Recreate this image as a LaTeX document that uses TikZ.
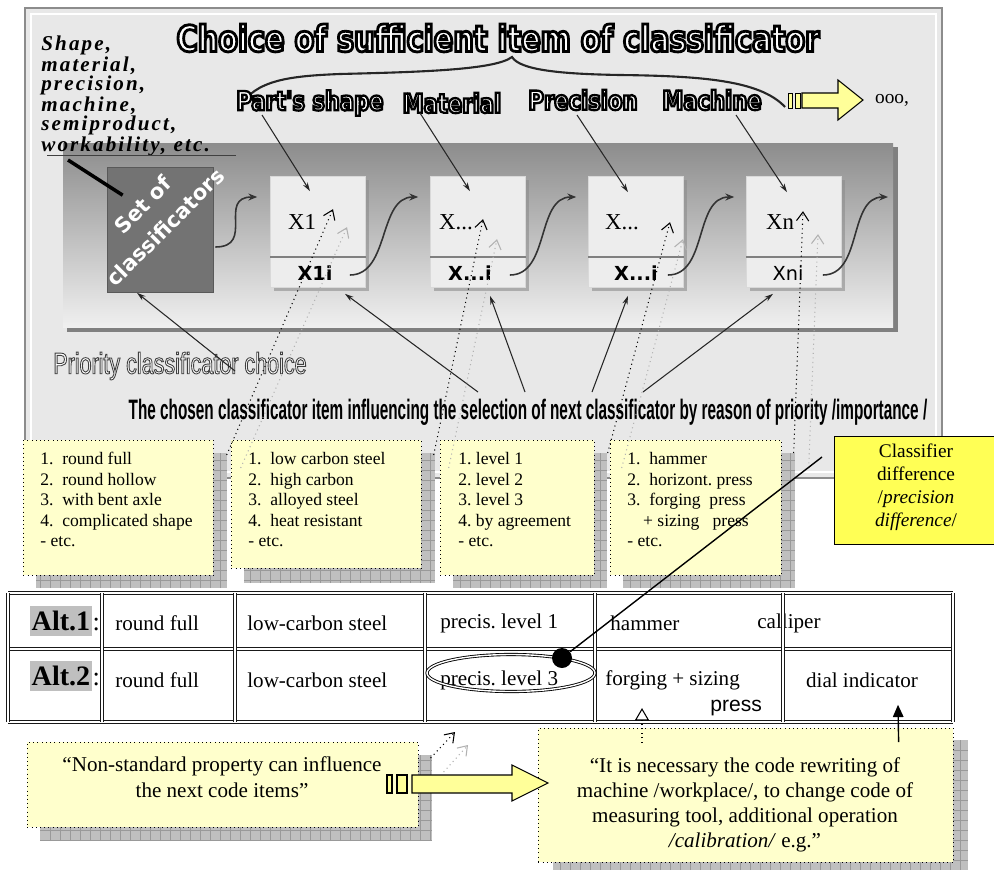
\documentclass[tikz,border=0pt]{standalone}
\usepackage{fontspec}
\setmainfont{Liberation Serif}
\newfontfamily\headfont{DejaVu Sans}[FakeStretch=0.8]
\newfontfamily\boxfont{DejaVu Sans}
\newfontfamily\plainsans{Liberation Sans}
\newfontfamily\condfont{Liberation Sans}[FakeStretch=0.72]
\newfontfamily\tightfont{Liberation Sans}[FakeStretch=0.545]
\newfontfamily\spacedfont{Liberation Serif}[LetterSpace=10]
\usetikzlibrary{arrows.meta,calc,positioning,shadows,shapes.geometric}
\frenchspacing

\definecolor{noteyellow}{RGB}{255,255,204}
\definecolor{signyellow}{RGB}{255,255,85}
\definecolor{arrowyellow}{RGB}{255,255,153}

% white letters with a stroked rim
\newcommand\rimtext[2]{\special{pdf:literal direct 2 Tr #1}#2\special{pdf:literal direct 0 Tr 0.4 w}}

\tikzset{
  headtxt/.style={text=white},
  itembox/.style={fill=black!7, draw=black!15, minimum width=1.9cm, minimum height=2.22cm,
    drop shadow={shadow xshift=2pt, shadow yshift=-2pt, fill=black!45, opacity=0.6}},
  toplab/.style={font=\fontsize{13}{15}\selectfont},
  botlab/.style={font=\boxfont\bfseries\fontsize{11}{13}\selectfont},
  sarrow/.style={-{Stealth[length=5pt,width=4pt]}, line width=0.9pt, black!80},
  pointer/.style={-{Stealth[length=5pt,width=3pt]}, line width=0.6pt, black!85},
  notebox/.style={draw, dotted, fill=noteyellow, inner sep=0pt, anchor=north west},
  listtxt/.style={align=left, anchor=north west, inner sep=0pt, font=\fontsize{10}{11.7}\selectfont},
  dotarrow/.style={dotted, line width=0.6pt, -{Straight Barb[length=5pt,width=7pt]}},
  dotshade/.style={dotarrow, black!30},
  tabcell/.style={anchor=west, inner sep=0pt, font=\fontsize{12}{14}\selectfont},
  altlab/.style={fill=black!25, inner xsep=1pt, inner ysep=3pt, font=\bfseries\fontsize{16}{18}\selectfont},
  tableline/.style={draw=black!90, double=white, double distance=0.7pt, line width=0.7pt}
}

% grey grid shadow behind the yellow notes
\newcommand\gridshadow[4]{%
  \fill[black!25] (#1,#2) rectangle (#3,#4);
  \draw[black!40, line width=0.2pt, step=0.2cm] (#1,#2) grid (#3,#4);
}

\begin{document}
\begin{tikzpicture}[x=0.02cm, y=-0.02cm]
    \fill[white] (0,0) rectangle (994,869);
    \useasboundingbox (0,0) rectangle (994,869);

    % grey panel
    \draw[black!45, line width=1.5pt, fill=black!9] (25,8) rectangle (942,478);
    \draw[white, line width=0.8pt] (31,14) rectangle (936,472);

    % title and brace
    \node[headtxt, font=\headfont\bfseries\fontsize{20.5}{24}\selectfont] (title) at (498,38)
        {\rimtext{1.6 w 0 0 0 RG}{Choice of sufficient item of classificator}};
    \draw[line width=1.2pt, black!85] (240,107) .. controls (255,80) and (290,76) .. (340,74)
        .. controls (420,72) and (495,70) .. (512,57)
        .. controls (520,70) and (560,74) .. (620,75)
        .. controls (700,76) and (760,80) .. (785,107);

    % classifier labels
    \begin{scope}[headtxt, font=\headfont\bfseries\fontsize{15}{18}\selectfont]
        \node (shape) at (310,103) {\rimtext{1.3 w 0 0 0 RG}{Part's shape}};
        \node (material) at (452,103) {\rimtext{1.3 w 0 0 0 RG}{Material}};
        \node (precision) at (583,100) {\rimtext{1.3 w 0 0 0 RG}{Precision}};
        \node (machine) at (712,100) {\rimtext{1.3 w 0 0 0 RG}{Machine}};
    \end{scope}

    % continuation arrow
    \coordinate (toptip) at (863,100);
    \draw[fill=arrowyellow, line width=0.6pt] (toptip) -- ++(-25,-20) -- ++(0,13) -- ++(-36,0)
        -- ++(0,15) -- ++(36,0) -- ++(0,12) -- cycle;
    \draw[fill=arrowyellow, line width=0.5pt] (788,93) rectangle (792,108);
    \draw[fill=arrowyellow, line width=0.5pt] (795,93) rectangle (800,108);
    \node[font=\fontsize{11}{12}\selectfont] (etcdots) at (892,100) {ooo,};

    % band with the classifiers
    \fill[black!50] (67,147) rectangle (898,332);
    \shade[top color=black!45, bottom color=black!6] (63,143) rectangle (893,327);

    % list of attributes
    \node[align=left, anchor=north west, inner sep=0pt,
          font=\spacedfont\bfseries\itshape\fontsize{12}{10.8}\selectfont] (attrlist) at (41,36)
        {Shape,\\material,\\precision,\\machine,\\semiproduct,\\workability, etc.};
    \draw[black!75] (47,155) -- (236,155);

    \node[draw=black!65, fill=black!55, minimum width=2.12cm, minimum height=2.5cm] (setbox) at (160,230) {};
    \node[rotate=45, text=white, align=center, font=\boxfont\bfseries\fontsize{12}{18}\selectfont]
        at (154,216) {Set of\\classificators};
    \draw[line width=2pt] (68,160) -- ($(setbox.north west)+(16,28)$);

    \foreach \nm/\cx in {xa/318, xb/478, xc/636, xd/794}
        \node[itembox] (\nm) at (\cx,232) {};
    \foreach \nm in {xa,xb,xc,xd}
        \draw[black!50, line width=1.5pt] ($(\nm.west)+(0,25)$) -- ($(\nm.east)+(0,25)$);

    \node[toplab] at ($(xa)+(-16,-10)$) {X1};
    \node[toplab] at ($(xb)+(-22,-10)$) {X...};
    \node[toplab] at ($(xc)+(-14,-10)$) {X...};
    \node[toplab] at ($(xd)+(-14,-10)$) {Xn};
    \node[botlab] at ($(xa)+(-3,41)$) {X1i};
    \node[botlab] at ($(xb)+(-8,41)$) {X...i};
    \node[botlab] at ($(xc)+(0,41)$) {X...i};
    \node[botlab, font=\boxfont\fontsize{11}{13}\selectfont] at ($(xd)+(-6,41)$) {Xni};

    % S-shaped links
    \draw[sarrow] ($(setbox.east)+(2,17)$) .. controls +(40,0) and +(-40,0) .. ($(xa.west)+(-13,-35)$);
    \foreach \aa/\bb in {xa/xb, xb/xc, xc/xd}
        \draw[sarrow] ($(\aa.east)+(-16,43)$) .. controls +(40,0) and +(-40,0) .. ($(\bb.west)+(-12,-35)$);
    \coordinate (nextin) at (888,197);
    \draw[sarrow] ($(xd.east)+(-19,43)$) .. controls +(40,0) and +(-40,0) .. (nextin);

    % label pointers
    \draw[pointer] ($(shape)+(-48,12)$) -- ($(xa.north)+(-8,15)$);
    \draw[pointer] ($(material)+(-32,10)$) -- ($(xb.north)+(-8,15)$);
    \draw[pointer] ($(precision)+(-6,15)$) -- ($(xc.north)+(-8,16)$);
    \draw[pointer] ($(machine)+(24,15)$) -- ($(xd.north)+(-7,16)$);

    % lower captions
    \node[text=white, font=\condfont\fontsize{17}{20}\selectfont] (priority) at (180,366)
        {\rimtext{0.5 w 0.25 0.25 0.25 RG}{Priority classificator choice}};
    \node[font=\tightfont\bfseries\fontsize{16}{19}\selectfont] (chosen) at (528,412)
        {The chosen classificator item influencing the selection of next classificator by reason of priority /importance /};
    \draw[pointer] ($(priority)+(55,5)$) -- ($(setbox.south)+(-23,0)$);
    \draw[pointer] ($(chosen)+(-50,-20)$) -- ($(xa.south)+(27,6)$);
    \draw[pointer] ($(chosen)+(-3,-20)$) -- ($(xb.south)+(12,8)$);
    \draw[pointer] ($(chosen)+(64,-20)$) -- ($(xc.south)+(-8,8)$);
    \draw[pointer] ($(chosen)+(115,-20)$) -- ($(xd.south)+(-21,6)$);

    % option notes
    \gridshadow{36}{453}{227}{588}
    \node[notebox, minimum width=3.8cm, minimum height=2.7cm] (shapeopts) at (23,440) {};
    \node[listtxt] at ($(shapeopts.north west)+(17,12)$)
        {1.~ round full\\2.~ round hollow\\3.~ with bent axle\\4.~ complicated shape\\- etc.};

    \gridshadow{244}{453}{435}{583}
    \node[notebox, minimum width=3.8cm, minimum height=2.56cm] (materialopts) at (231,440) {};
    \node[listtxt] at ($(materialopts.north west)+(17,12)$)
        {1.~ low carbon steel\\2.~ high carbon\\3.~ alloyed steel\\4.~ heat resistant\\- etc.};

    \gridshadow{453}{453}{607}{588}
    \node[notebox, minimum width=3.08cm, minimum height=2.7cm] (precisionopts) at (440,440) {};
    \node[listtxt] at ($(precisionopts.north west)+(18,12)$)
        {1. level 1\\2. level 2\\3. level 3\\4. by agreement\\- etc.};

    \gridshadow{623}{453}{795}{588}
    \node[notebox, minimum width=3.42cm, minimum height=2.7cm] (machineopts) at (610,440) {};
    \node[listtxt] at ($(machineopts.north west)+(17,12)$)
        {1.~ hammer\\2.~ horizont. press\\3.~ forging~ press\\\hspace*{9pt}+ sizing~~ press\\- etc.};

    % notes point to the items
    \draw[dotshade] ($(shapeopts.north east)+(27,28)$) -- ($(xa.north)+(29,51)$);
    \draw[dotarrow] ($(shapeopts.north east)+(13,15)$) -- ($(xa.north)+(15,33)$);
    \draw[dotshade] ($(materialopts.north east)+(27,28)$) -- ($(xb.north)+(19,63)$);
    \draw[dotarrow] ($(materialopts.north east)+(12,15)$) -- ($(xb.north)+(5,43)$);
    \draw[dotshade] ($(precisionopts.north east)+(27,28)$) -- ($(xc.north)+(47,63)$);
    \draw[dotarrow] ($(precisionopts.north east)+(13,13)$) -- ($(xc.north)+(34,46)$);
    \draw[dotshade] ($(machineopts.north east)+(27,28)$) -- ($(xd.north)+(24,58)$);
    \draw[dotarrow] ($(machineopts.north east)+(12,13)$) -- ($(xd.north)+(9,35)$);

    % classifier difference
    \node[draw, fill=signyellow, line width=0.6pt, anchor=north west,
          minimum width=3.4cm, minimum height=2.16cm] (diffbox) at (834,436) {};
    \node[align=center, font=\fontsize{11}{13}\selectfont] (difftxt) at (916,487)
        {Classifier\\difference\\/\textit{precision}\\\textit{difference}/};

    % alternatives table
    \node[altlab] (alt1) at (61,621) {Alt.1};
    \node[anchor=base west, inner sep=0pt, font=\fontsize{15}{17}\selectfont] at (alt1.base east) {:};
    \node[altlab] (alt2) at (61,676) {Alt.2};
    \node[anchor=base west, inner sep=0pt, font=\fontsize{15}{17}\selectfont] at (alt2.base east) {:};

    \node[tabcell] (a1shape) at (115,623) {round full};
    \node[tabcell] (a1mat) at (247,623) {low-carbon steel};
    \node[tabcell] (a1prec) at (440,623) {precis. level 1};
    \node[tabcell] (a1mach) at (610,623) {hammer};
    \node[tabcell] (a1tool) at (757,623) {calliper};
    \node[tabcell] (a2shape) at (115,680) {round full};
    \node[tabcell] (a2mat) at (247,680) {low-carbon steel};
    \node[tabcell] (a2prec) at (440,680) {precis. level 3};
    \node[tabcell] (a2mach) at (605,680) {forging + sizing};
    \node[tabcell, font=\plainsans\fontsize{12}{14}\selectfont] (a2press) at (710,708) {press};
    \node[tabcell, anchor=center] (a2tool) at (862,680) {dial indicator};

    \foreach \yy in {593,649,722}
        \draw[tableline] (8,\yy) -- (953,\yy);
    \foreach \xx in {8,102,235,425,595,783,953}
        \draw[tableline] (\xx,593) -- (\xx,722);

    \node[draw, ellipse, double, double distance=0.8pt, line width=0.5pt,
          minimum width=3.36cm, minimum height=0.74cm] (precring) at (511,673) {};
    \node[circle, fill=black, minimum size=0.4cm, inner sep=0pt] (diffdot) at (562,658) {};
    \draw[line width=0.8pt] (diffdot) -- ($(diffbox.north west)+(-12,21)$);

    % bottom notes
    \gridshadow{40}{755}{432}{841}
    \node[notebox, minimum width=7.82cm, minimum height=1.7cm] (influnote) at (27,742) {};
    \node[align=center, font=\fontsize{12}{14.7}\selectfont] at (222,777)
        {``Non-standard property can influence\\the next code items''};

    \gridshadow{553}{740}{968}{875}
    \node[notebox, minimum width=8.3cm, minimum height=2.68cm] (rewritenote) at (538,728) {};
    \node[align=center, font=\fontsize{12}{14.2}\selectfont] at (745,805)
        {``It is necessary the code rewriting of\\machine /workplace/, to change code of\\measuring tool, additional operation\\\textit{/calibration/} e.g.''};

    \coordinate (influtip) at (455,732);
    \coordinate (influshade) at (468,745);
    \draw[dotshade] ($(influnote.north east)+(25,30)$) -- (influshade);
    \draw[dotarrow] ($(influnote.north east)+(12,16)$) -- (influtip);

    \coordinate (bigtip) at (548,783);
    \draw[fill=arrowyellow, line width=0.6pt] (bigtip) -- ++(-36,-18) -- ++(0,10) -- ++(-100,0)
        -- ++(0,18) -- ++(100,0) -- ++(0,8) -- cycle;
    \draw[fill=arrowyellow, line width=0.6pt] (387,775) rectangle (392,793);
    \draw[fill=arrowyellow, line width=0.6pt] (397,775) rectangle (407,793);

    \draw[dotted, line width=0.6pt, -{Triangle[open, length=7pt, width=8pt]}]
        ($(rewritenote.north west)+(104,15)$) -- ($(a2mach.south west)+(37,18)$);
    \draw[line width=0.8pt, -{Triangle[length=7pt, width=6pt]}]
        ($(rewritenote.north east)+(-55,14)$) -- ($(a2tool.south)+(36,17)$);
\end{tikzpicture}
\end{document}
